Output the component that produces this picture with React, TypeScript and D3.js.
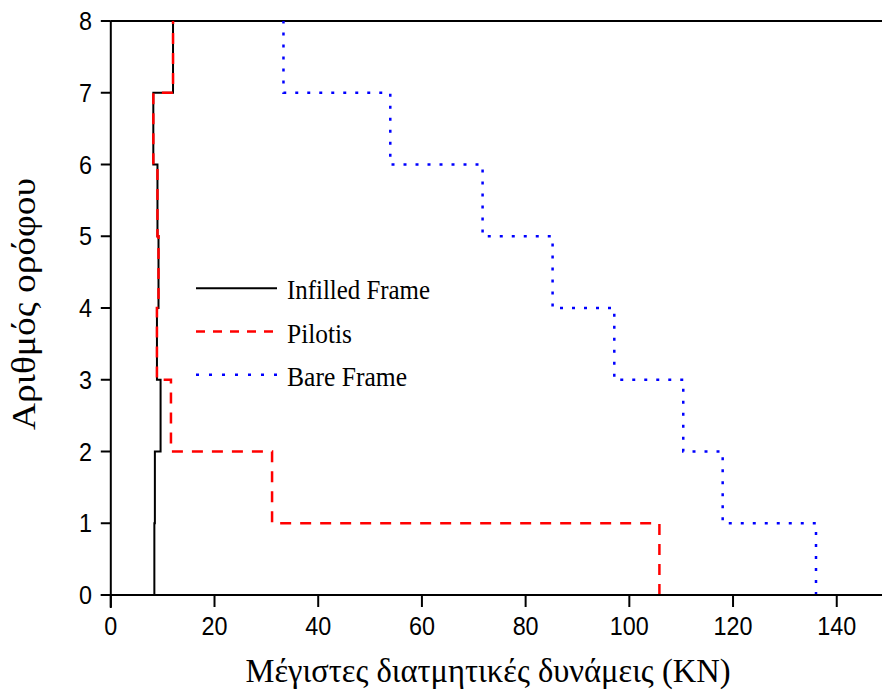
import React from 'react'
import * as d3 from 'd3'

// storey levels 0..8, values are the shear force for each storey interval [i, i+1]
const storeys = [0, 1, 2, 3, 4, 5, 6, 7]
const infilled = [8.4, 8.5, 9.6, 8.9, 9.2, 9.0, 8.2, 12.0]
const pilotis = [105.8, 31.1, 11.6, 8.9, 9.2, 9.0, 8.2, 12.0]
const bare = [136.0, 118.0, 110.4, 97.1, 85.2, 71.7, 53.9, 33.3]

const xTicks = [0, 20, 40, 60, 80, 100, 120, 140]
const yTicks = [0, 1, 2, 3, 4, 5, 6, 7, 8]

const seriesList = [
    { name: 'Infilled Frame', values: infilled, color: '#000000', dash: null, legendDash: null, width: 2, labelW: 143 },
    { name: 'Pilotis', values: pilotis, color: '#ff0000', dash: '11,9', legendDash: '9,8', width: 2.5, labelW: 65 },
    { name: 'Bare Frame', values: bare, color: '#0000ff', dash: '3,9', legendDash: '3,10', width: 2.5, labelW: 120 },
]

export default function App() {
    const width = 882
    const height = 695

    const x = d3.scaleLinear().domain([0, 150]).range([110.8, 888.6])
    const y = d3.scaleLinear().domain([0, 8]).range([595, 21])

    // vertical segment first, then the horizontal jump to next storey value
    const line = d3.line<[number, number]>()
        .x(d => x(d[0]))
        .y(d => y(d[1]))
        .curve(d3.curveStepBefore)

    const pts = (vals: number[]): [number, number][] => {
        const p: [number, number][] = storeys.map(i => [vals[i], i])
        p.push([vals[vals.length - 1], 8])
        return p
    }

    const tickFont = '"Liberation Sans", Arial, sans-serif'
    const serif = '"Liberation Serif", "Times New Roman", serif'

    return (
        <svg width={width} height={height} style={{ position: 'absolute', left: 0, top: 0, background: '#fff' }}>
            {/* top frame line */}
            <line x1={x(0)} x2={width} y1={y(8)} y2={y(8)} stroke="#000" strokeWidth={2} />

            {/* series */}
            {seriesList.map(s => (
                <path key={s.name} d={line(pts(s.values)) || ''} fill="none" stroke={s.color}
                    strokeWidth={s.width} strokeDasharray={s.dash || undefined} />
            ))}

            {/* y axis */}
            <line x1={x(0)} x2={x(0)} y1={y(8)} y2={608} stroke="#000" strokeWidth={2} />
            {yTicks.map(t => (
                <g key={'y' + t}>
                    <line x1={x(0) - 10} x2={x(0)} y1={y(t)} y2={y(t)} stroke="#000" strokeWidth={2} />
                    <text x={92} y={y(t)} dy="0.36em" textAnchor="end" fontFamily={tickFont} fontSize={25}
                        textLength={String(t).length * 13} lengthAdjust="spacingAndGlyphs">{t}</text>
                </g>
            ))}

            {/* x axis */}
            <line x1={x(0) - 10} x2={width} y1={y(0)} y2={y(0)} stroke="#000" strokeWidth={2} />
            {xTicks.map(t => (
                <g key={'x' + t}>
                    <line x1={x(t)} x2={x(t)} y1={y(0)} y2={y(0) + 12} stroke="#000" strokeWidth={2} />
                    <text x={x(t)} y={635} textAnchor="middle" fontFamily={tickFont} fontSize={25}
                        textLength={String(t).length * 13} lengthAdjust="spacingAndGlyphs">{t}</text>
                </g>
            ))}

            {/* axis titles */}
            <text x={488} y={682} textAnchor="middle" fontFamily={serif} fontSize={33}
                textLength={485} lengthAdjust="spacingAndGlyphs">Μέγιστες διατμητικές δυνάμεις (KN)</text>
            <text transform="translate(35,304) rotate(-90)" textAnchor="middle" fontFamily={serif} fontSize={34}
                textLength={252} lengthAdjust="spacingAndGlyphs">Αριθμός ορόφου</text>

            {/* legend */}
            {seriesList.map((s, i) => (
                <g key={'lg' + s.name} transform={`translate(196,${288.3 + i * 43.2})`}>
                    <line x1={0} x2={81} y1={0} y2={0} stroke={s.color} strokeWidth={s.width}
                        strokeDasharray={s.legendDash || undefined} />
                    <text x={91} y={11} fontFamily={serif} fontSize={28}
                        textLength={s.labelW} lengthAdjust="spacingAndGlyphs">{s.name}</text>
                </g>
            ))}
        </svg>
    )
}
